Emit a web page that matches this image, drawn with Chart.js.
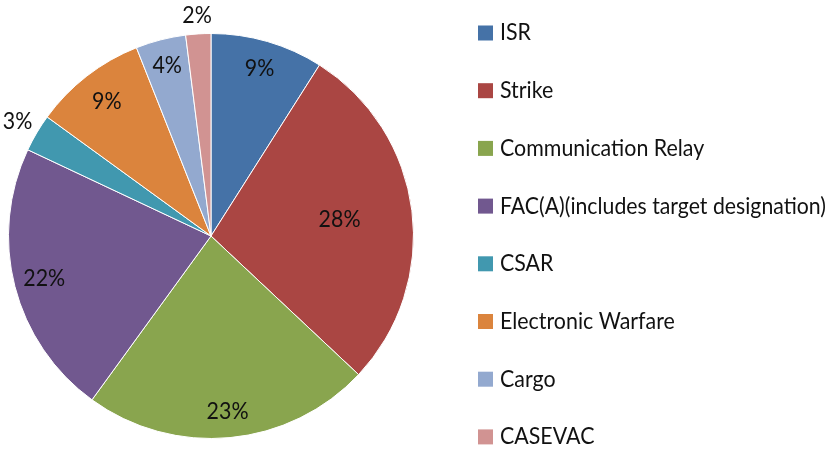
<!DOCTYPE html>
<html>
<head>
<meta charset="utf-8">
<script src="https://cdn.jsdelivr.net/npm/chart.js@4.4.1/dist/chart.umd.min.js"></script>
<style>
  html, body { margin: 0; padding: 0; background: #fff; }
  #wrap { width: 830px; height: 451px; }
</style>
</head>
<body>
<div id="wrap"><canvas id="myChart" width="830" height="451"></canvas></div>
<script>
// roles and their share (%)
const roles = ['ISR', 'Strike', 'Communication Relay', 'FAC(A)(includes target designation)',
               'CSAR', 'Electronic Warfare', 'Cargo', 'CASEVAC'];
const shares = [9, 28, 23, 22, 3, 9, 4, 2];
const sliceColors = ['#4572A7', '#AA4643', '#89A54E', '#71588F', '#4198AF', '#DB843D', '#93A9CF', '#D19392'];

// where each % label sits, as a fraction of the radius
const labelRadius = [0.86, 0.64, 0.87, 0.85, 1.11, 0.84, 0.87, 1.09];

const FONT = '23px Lato, "Liberation Sans", sans-serif';

// narrow text a little, like the original's condensed font
function squeezedText(ctx, text, x, y, maxW) {
    const sx = 0.93;
    ctx.save();
    ctx.translate(x, y);
    ctx.scale(sx, 1);
    if (maxW) ctx.fillText(text, 0, 0, maxW / sx);
    else ctx.fillText(text, 0, 0);
    ctx.restore();
}

const labelsAndLegend = {
    id: 'labelsAndLegend',
    afterDraw(chart) {
        const ctx = chart.ctx;
        const arcs = chart.getDatasetMeta(0).data;
        ctx.save();
        ctx.font = FONT;
        ctx.fillStyle = '#111';
        ctx.textAlign = 'center';
        ctx.textBaseline = 'middle';
        arcs.forEach((arc, i) => {
            const mid = (arc.startAngle + arc.endAngle) / 2;
            const r = arc.outerRadius * labelRadius[i];
            squeezedText(ctx, shares[i] + '%', arc.x + Math.cos(mid) * r, arc.y + Math.sin(mid) * r);
        });

        // legend on the right
        const top = 33, step = 57.7, box = 15, boxX = 478, textX = 500;
        ctx.textAlign = 'left';
        roles.forEach((name, i) => {
            const y = top + i * step;
            ctx.fillStyle = sliceColors[i];
            ctx.fillRect(boxX, y - box / 2, box, box);
            ctx.fillStyle = '#111';
            squeezedText(ctx, name, textX, y, 326);
        });
        ctx.restore();
    }
};

const ctx = document.getElementById('myChart').getContext('2d');
const myChart = new Chart(ctx, {
    type: 'pie',
    data: {
        labels: roles,
        datasets: [{
            data: shares,
            backgroundColor: sliceColors,
            borderColor: '#fff',
            borderWidth: 1
        }]
    },
    options: {
        responsive: false,
        animation: false,
        layout: { padding: { left: 8, right: 416, top: 33, bottom: 12 } },
        plugins: {
            legend: { display: false },
            tooltip: { enabled: false }
        }
    },
    plugins: [labelsAndLegend]
});
</script>
</body>
</html>
